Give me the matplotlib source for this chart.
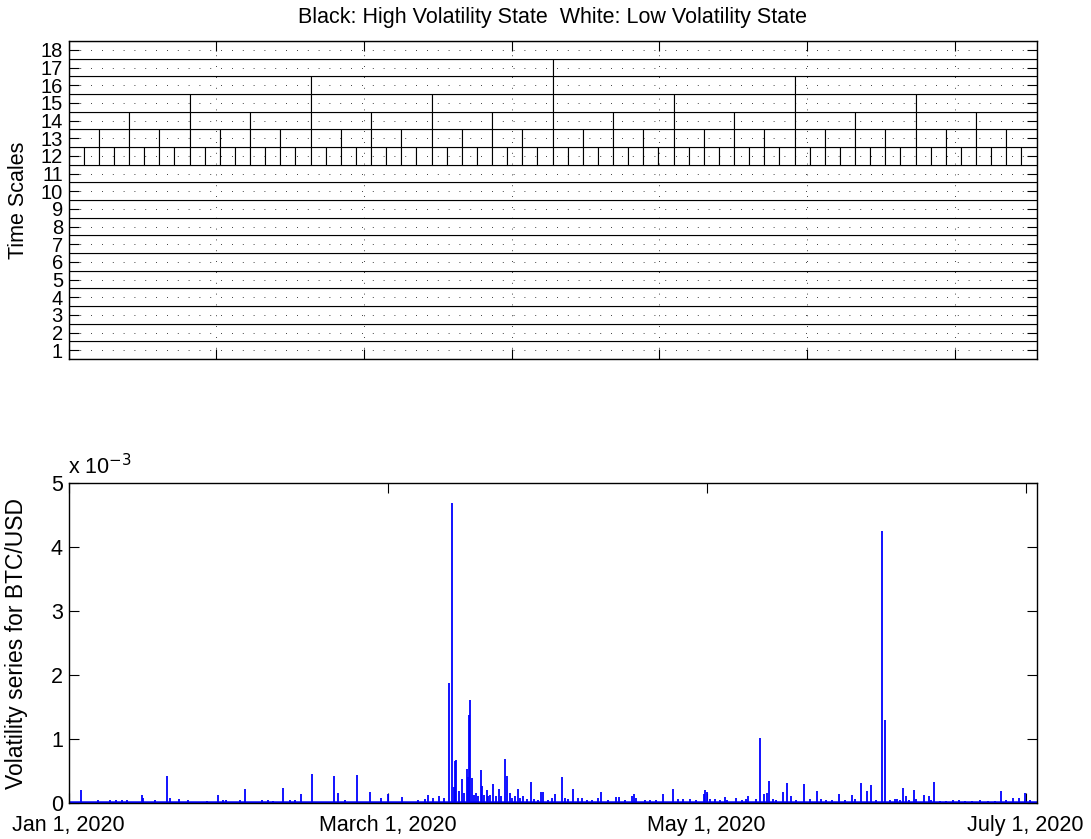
import matplotlib
matplotlib.use("Agg")
from matplotlib import pyplot as plt
from matplotlib.patches import Rectangle

plt.rcParams['font.family'] = ['Liberation Sans', 'DejaVu Sans']

# ---- top panel: state tree ----
n_obs = 2 ** 18
time_scales = list(range(1, 19))
# number of blocks drawn in each time-scale row (scale 1 .. 18)
cells_per_scale = [1, 1, 1, 1, 1, 1, 1, 1, 1, 1, 1, 64, 32, 16, 8, 4, 2, 1]
# (scale, block index) of blocks in the high volatility state -> none here
high_state_cells = []
top_xticks = [0, 40000, 80000, 120000, 160000, 200000, 240000]

# ---- bottom panel: volatility series (x in thousands of obs, y in 1e-3) ----
base_vol = 0.012
spike_obs_k = [
    3.39, 7.99, 11.24, 12.86, 14.49, 15.84, 19.82, 20.18, 23.43, 26.67,
    27.41, 29.92, 32.36, 37.43, 40.40, 41.76, 42.65, 46.44, 47.72, 52.40,
    54.03, 55.38, 58.01, 59.98, 61.34, 62.88, 65.86, 71.90, 73.06, 74.88,
    78.05, 81.65, 84.63, 86.52, 90.23, 94.65, 96.54, 97.44, 98.71, 100.33,
    101.69, 103.04, 103.77, 104.40, 104.67, 104.94, 105.75, 106.48, 107.11, 107.92,
    108.27, 108.54, 108.81, 109.19, 109.81, 110.36, 110.90, 111.63, 111.98, 112.52,
    113.25, 113.61, 114.15, 115.04, 115.77, 116.50, 117.13, 118.13, 118.83, 119.48,
    120.10, 120.92, 121.73, 122.27, 123.16, 124.17, 125.17, 126.06, 127.15, 127.88,
    128.42, 129.85, 130.94, 131.75, 133.56, 134.46, 135.27, 136.54, 137.98, 139.06,
    140.42, 141.77, 143.48, 144.21, 146.10, 148.27, 149.08, 150.71, 152.68, 153.22,
    153.69, 156.12, 157.48, 159.10, 160.92, 163.62, 164.98, 166.49, 168.31, 169.93,
    172.10, 172.37, 172.91, 173.73, 175.08, 176.43, 177.79, 178.33, 180.68, 182.39,
    183.47, 183.93, 186.18, 187.27, 188.35, 189.24, 189.70, 190.79, 191.60, 193.41,
    194.58, 195.58, 197.01, 199.10, 200.81, 202.62, 203.70, 205.14, 206.76, 208.74,
    210.28, 212.26, 212.99, 214.54, 216.32, 217.33, 218.68, 220.22, 221.04, 222.47,
    223.82, 224.28, 225.18, 225.99, 226.72, 227.62, 228.89, 229.51, 231.76, 232.90,
    233.57, 234.31, 236.01, 237.64, 239.45, 241.16, 242.78, 244.68, 246.84, 249.01,
    250.91, 252.53, 253.80, 255.70, 257.49, 259.03, 260.39,
]
spike_vol_e3 = [
    0.20, 0.05, 0.05, 0.05, 0.05, 0.05, 0.12, 0.08, 0.04, 0.42,
    0.07, 0.06, 0.04, 0.03, 0.12, 0.05, 0.05, 0.04, 0.21, 0.04,
    0.04, 0.03, 0.23, 0.04, 0.04, 0.13, 0.45, 0.42, 0.15, 0.05,
    0.43, 0.17, 0.07, 0.13, 0.09, 0.05, 0.06, 0.12, 0.07, 0.10,
    0.08, 1.88, 4.69, 0.25, 0.66, 0.67, 0.19, 0.37, 0.15, 0.53,
    0.41, 1.37, 1.61, 0.38, 0.12, 0.15, 0.10, 0.51, 0.26, 0.12,
    0.20, 0.10, 0.12, 0.29, 0.10, 0.22, 0.10, 0.68, 0.42, 0.15,
    0.08, 0.10, 0.21, 0.07, 0.10, 0.06, 0.33, 0.06, 0.05, 0.16,
    0.16, 0.05, 0.07, 0.13, 0.41, 0.07, 0.06, 0.21, 0.07, 0.07,
    0.05, 0.04, 0.07, 0.17, 0.05, 0.09, 0.09, 0.04, 0.11, 0.13,
    0.08, 0.04, 0.04, 0.05, 0.14, 0.21, 0.06, 0.06, 0.06, 0.04,
    0.13, 0.20, 0.17, 0.06, 0.06, 0.04, 0.09, 0.05, 0.07, 0.05,
    0.06, 0.10, 0.06, 1.02, 0.13, 0.15, 0.34, 0.06, 0.05, 0.16,
    0.31, 0.10, 0.04, 0.29, 0.06, 0.18, 0.06, 0.04, 0.04, 0.13,
    0.04, 0.12, 0.06, 0.31, 0.19, 0.27, 0.05, 4.25, 1.30, 0.05,
    0.06, 0.06, 0.05, 0.23, 0.10, 0.04, 0.20, 0.06, 0.12, 0.10,
    0.05, 0.32, 0.03, 0.03, 0.04, 0.05, 0.03, 0.03, 0.05, 0.03,
    0.03, 0.18, 0.05, 0.07, 0.08, 0.15, 0.04,
]
date_tick_obs = [1, 86400, 172800, 259200]
date_labels = ['Jan 1, 2020', 'March 1, 2020', 'May 1, 2020', 'July 1, 2020']
vol_ticks_e3 = [0, 1, 2, 3, 4, 5]

W, H = 1091, 839
fig = plt.figure(figsize=(W / 100, H / 100), dpi=100)
ax1 = fig.add_axes([68.5 / W, 1 - 359 / H, 968 / W, 318 / H])
ax2 = fig.add_axes([68.5 / W, 1 - 802.7 / H, 968 / W, 319.4 / H])

fs = 15.5

# top panel
for scale, ncell in zip(time_scales, cells_per_scale):
    w = n_obs / ncell
    for i in range(ncell):
        fc = 'black' if (scale, i) in high_state_cells else 'white'
        ax1.add_patch(Rectangle((i * w, scale - 0.5), w, 1, facecolor=fc,
                                edgecolor='black', lw=0.8, zorder=1))
ax1.set_xlim(0, n_obs)
ax1.set_ylim(0.5, 18.5)
ax1.set_yticks(time_scales)
ax1.set_xticks(top_xticks)
ax1.set_xticklabels([])
ax1.grid(True, color='black', lw=0.6, linestyle=(0, (1, 12)))
ax1.set_axisbelow(False)
ax1.tick_params(direction='in', top=True, right=True, length=7, width=0.8,
                labelsize=14.5, pad=4)
ax1.set_ylabel('Time Scales', fontsize=fs)
ax1.yaxis.set_label_coords(-0.041, 0.5)
ax1.set_title('Black: High Volatility State  White: Low Volatility State',
              fontsize=15.5, pad=13)

# bottom panel
ax2.plot([0, n_obs], [base_vol * 1e-3, base_vol * 1e-3], color='blue', lw=1.8)
ax2.vlines([x * 1000 for x in spike_obs_k], 0,
           [v * 1e-3 for v in spike_vol_e3], color='blue', lw=1.3)
ax2.set_xlim(0, n_obs)
ax2.set_ylim(0, 5e-3)
ax2.set_yticks([v * 1e-3 for v in vol_ticks_e3])
ax2.set_yticklabels([str(v) for v in vol_ticks_e3])
ax2.set_xticks(date_tick_obs)
ax2.set_xticklabels(date_labels)
ax2.tick_params(direction='in', top=True, right=True, length=7, width=0.8,
                labelsize=fs, pad=4)
ax2.tick_params(axis='x', pad=8.5)
ax2.set_ylabel('Volatility series for BTC/USD', fontsize=16.5)
ax2.yaxis.set_label_coords(-0.042, 0.5)
ax2.text(0, 1.03, r'x 10$^{-3}$', transform=ax2.transAxes, fontsize=fs,
         ha='left', va='baseline')

for ax in (ax1, ax2):
    for s in ax.spines.values():
        s.set_linewidth(1.0)

fig.savefig('out.png', dpi=100)
